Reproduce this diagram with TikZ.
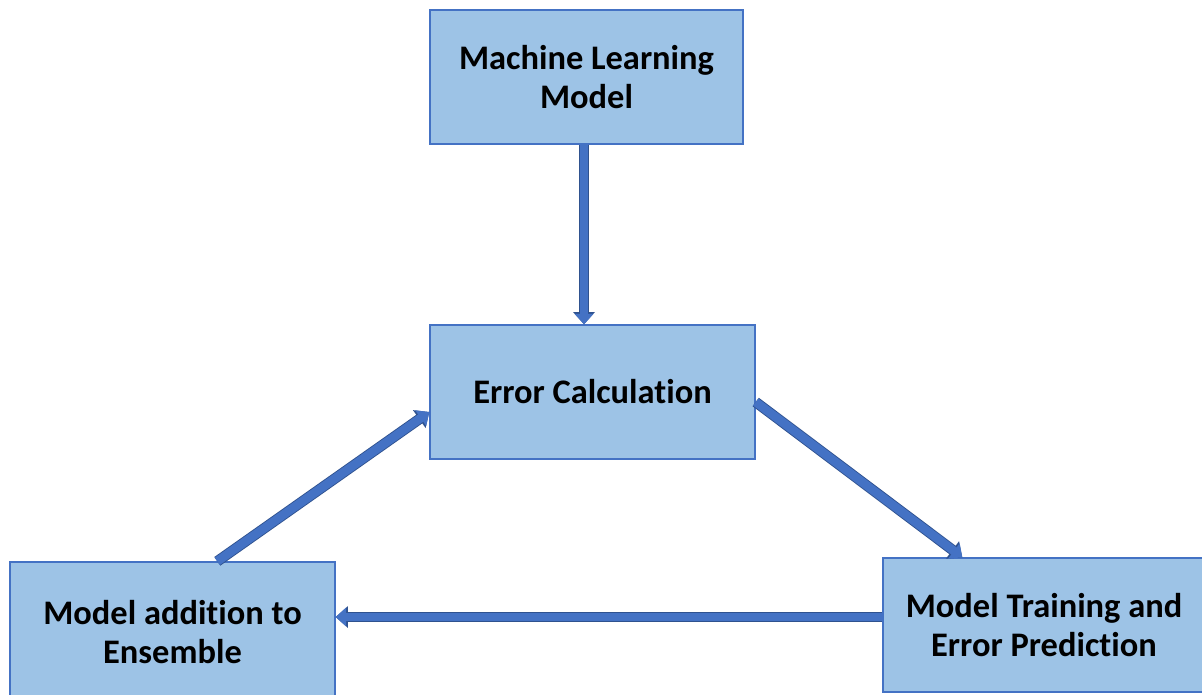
\documentclass[tikz,border=0pt]{standalone}
\usepackage{fontspec}
\setmainfont{Carlito}[Ligatures=NoCommon]
\usetikzlibrary{arrows.meta}
\definecolor{boxfill}{HTML}{9DC3E6}
\definecolor{boxedge}{HTML}{4472C4}
\definecolor{arrowfill}{HTML}{4472C4}
\definecolor{arrowedge}{HTML}{2F528F}
\begin{document}
\begin{tikzpicture}[x=0.02cm, y=-0.02cm,
    stage/.style={draw=boxedge, line width=0.8pt, fill=boxfill, align=center,
      font=\fontsize{19.6}{22}\selectfont\bfseries, inner sep=0pt},
    flow/.style={draw=arrowfill, line width=5pt, -{Triangle[width=10.5pt,length=6pt]},
      preaction={draw=arrowedge, line width=6pt, -{Triangle[width=12pt,length=7pt]}}}]
  \useasboundingbox (0,0) rectangle (1202,694);
  \node[stage, minimum width=6.26cm, minimum height=2.68cm] (model) at (586.5,77) {Machine Learning\\Model};
  \node[stage, minimum width=6.5cm, minimum height=2.68cm] (error) at (592.5,392) {Error Calculation};
  \node[stage, minimum width=6.5cm, minimum height=2.8cm] (ensemble) at (172.5,632) {Model addition to\\Ensemble};
  \node[stage, minimum width=6.44cm, minimum height=2.68cm] (train) at (1044,625) {Model Training and\\Error Prediction};
  \draw[flow] ([xshift=-0.05cm]model.south) -- ([xshift=-0.05cm]model.south |- error.north);
  \draw[flow] ([yshift=-0.2cm]error.east) -- ([xshift=1.6cm]train.north west);
  \draw[flow] ([xshift=4.16cm]ensemble.north west) -- ([yshift=-0.4cm]error.west);
  \draw[flow] ([yshift=0.16cm]train.west) -- ([yshift=0.16cm]train.west -| ensemble.east);
\end{tikzpicture}
\end{document}
